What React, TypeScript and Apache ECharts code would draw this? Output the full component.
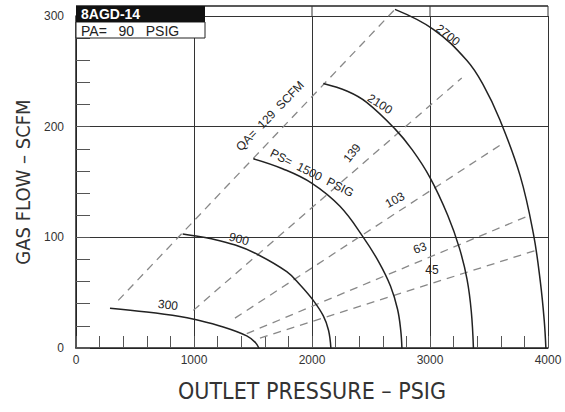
import React, { useEffect, useRef } from "react";
import * as echarts from "echarts";

// Tick labels
const xTickLabels = ["0", "1000", "2000", "3000", "4000"];
const yTickLabels = ["0", "100", "200", "300"];

// Constant outlet-pressure curves (PS, psig): [outlet pressure, gas flow]
const ps300 = [[288, 36], [600, 32.5], [881, 28.5], [1000, 26], [1248, 19], [1447, 11], [1520, 5], [1550, 0]];
const ps900 = [[904, 103], [1000, 101.5], [1136, 99], [1350, 93], [1531, 85], [1786, 69], [1900, 57], [2011, 43], [2096, 29], [2140, 16], [2160, 0]];
const ps1500 = [[1503, 171], [1750, 162], [1997, 149], [2237, 128], [2435, 100], [2570, 77], [2665, 56], [2725, 35], [2752, 16], [2762, 0]];
const ps2100 = [[2096, 239], [2300, 232], [2463, 222], [2703, 198], [2850, 179], [3000, 154], [3150, 120], [3250, 90], [3314, 62], [3350, 33], [3368, 0]];
const ps2700 = [[2703, 306], [3028, 288], [3311, 260], [3450, 238], [3593, 206], [3763, 156], [3875, 104], [3935, 60], [3968, 25], [3982, 0]];

// Constant air-consumption lines (QA, scfm)
const qa129 = [[358, 43], [2703, 306]];
const qa139 = [[994, 34], [3269, 244]];
const qa103 = [[1347, 27], [3619, 185]];
const qa63 = [[1447, 13], [3847, 120]];
const qa45 = [[1559, 9], [3890, 88]];

const psCurves = [ps300, ps900, ps1500, ps2100, ps2700];
const qaLines = [qa129, qa139, qa103, qa63, qa45];

const TXT = "'Liberation Sans', Arial, sans-serif";
const NARROW = "'Liberation Sans Narrow', 'DejaVu Sans Condensed', 'Arial Narrow', sans-serif";

export default function App() {
  const ref = useRef<HTMLDivElement>(null);
  useEffect(() => {
    if (!ref.current) return;
    const chart = echarts.init(ref.current, undefined, { renderer: "svg" });

    const series: any[] = [];
    psCurves.forEach((d, i) => {
      series.push({
        type: "line",
        name: "ps" + i,
        data: d,
        showSymbol: false,
        smooth: 0.4,
        clip: false,
        lineStyle: { color: "#222", width: 1.5 },
        z: 5,
      });
    });
    qaLines.forEach((d, i) => {
      series.push({
        type: "line",
        name: "qa" + i,
        data: d,
        showSymbol: false,
        clip: false,
        lineStyle: { color: "#888", width: 1.3, type: [8, 6] },
        z: 4,
      });
    });

    const ann = (text: string, x: number, y: number, rot: number, size = 11) => ({
      type: "text",
      x,
      y,
      rotation: rot,
      z: 100,
      style: {
        text,
        fill: "#222",
        font: `${size}px ${TXT}`,
        align: "center",
        verticalAlign: "middle",
      },
    });

    const vExt = (x: number) => ({
      type: "line",
      z: 90,
      shape: { x1: x, y1: 6, x2: x, y2: 16 },
      style: { stroke: "#333", lineWidth: 1 },
    });

    chart.setOption({
      animation: false,
      backgroundColor: "#fff",
      grid: { left: 76, right: 17, top: 16, bottom: 64, containLabel: false, outerBoundsMode: "none" },
      xAxis: {
        type: "value",
        min: 0,
        max: 4000,
        interval: 1000,
        name: "OUTLET PRESSURE – PSIG",
        nameLocation: "middle",
        nameGap: 31,
        nameTextStyle: { fontSize: 23, color: "#333", fontFamily: NARROW },
        axisLine: { show: true, lineStyle: { color: "#222", width: 1.5 } },
        axisTick: { show: true, inside: true, length: 12, lineStyle: { color: "#555" } },
        minorTick: { show: true, splitNumber: 5, length: 12, lineStyle: { color: "#555", width: 1 } },
        splitLine: { show: true, lineStyle: { color: "#333", width: 1 } },
        axisLabel: {
          margin: 6,
          fontSize: 12,
          color: "#333",
          fontFamily: TXT,
          formatter: (v: number) => xTickLabels[Math.round(v / 1000)] ?? "",
        },
      },
      yAxis: {
        type: "value",
        min: 0,
        max: 300,
        interval: 100,
        name: "GAS FLOW – SCFM",
        nameLocation: "middle",
        nameGap: 42,
        nameTextStyle: { fontSize: 20, color: "#333", fontFamily: NARROW },
        axisLine: { show: true, lineStyle: { color: "#222", width: 1.5 } },
        axisTick: { show: true, inside: true, length: 14, lineStyle: { color: "#555" } },
        minorTick: { show: true, splitNumber: 5, length: 14, lineStyle: { color: "#555", width: 1 } },
        splitLine: { show: true, lineStyle: { color: "#333", width: 1 } },
        axisLabel: {
          margin: 12,
          fontSize: 12,
          color: "#333",
          fontFamily: TXT,
          formatter: (v: number) => yTickLabels[Math.round(v / 100)] ?? "",
        },
      },
      series,
      graphic: [
        { type: "line", z: 90, shape: { x1: 76, y1: 6, x2: 548, y2: 6 }, style: { stroke: "#222", lineWidth: 1.3 } },
        vExt(312),
        vExt(430),
        vExt(548),
        { type: "rect", z: 95, shape: { x: 76, y: 22, width: 129, height: 16 }, style: { fill: "#fff", stroke: "#222", lineWidth: 1 } },
        { type: "rect", z: 96, shape: { x: 76, y: 6, width: 129, height: 16 }, style: { fill: "#111" } },
        {
          type: "text", z: 100, x: 81, y: 14,
          style: { text: "8AGD-14", fill: "#fff", font: `bold 14px ${TXT}`, verticalAlign: "middle" },
        },
        {
          type: "text", z: 100, x: 81, y: 30.5,
          style: { text: "PA=   90   PSIG", fill: "#222", font: `14px ${TXT}`, verticalAlign: "middle" },
        },
        ann("QA=  129  SCFM", 270, 116, 0.8, 12),
        ann("PS=  1500  PSIG", 312, 173, -0.47, 12),
        ann("2700", 448, 35, -0.66, 12),
        ann("2100", 380, 104, -0.57, 12),
        ann("900", 239, 239, -0.26, 12),
        ann("300", 168, 305, -0.12, 12),
        ann("139", 352, 153, 0.9, 12),
        ann("103", 395, 200, 0.5, 12),
        ann("63", 420, 248, 0.35, 12),
        ann("45", 432, 270, 0, 12),
      ],
    });
    return () => chart.dispose();
  }, []);
  return (
    <div
      ref={ref}
      style={{ position: "fixed", left: 0, top: 0, width: 565, height: 412, background: "#fff" }}
    />
  );
}
